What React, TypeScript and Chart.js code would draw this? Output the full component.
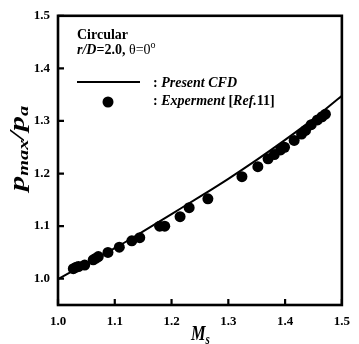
import React, { useEffect, useRef } from "react";
import { Chart, registerables } from "chart.js";

Chart.register(...registerables);

// Present CFD curve
const cfdMach = [1.0, 1.05, 1.1, 1.15, 1.2, 1.25, 1.3, 1.35, 1.4, 1.45, 1.5];
const cfdRatio = [0.999, 1.029, 1.058, 1.09, 1.123, 1.156, 1.19, 1.226, 1.264, 1.304, 1.348];

// Experiment [Ref.11]
const expMach = [
  1.027, 1.032, 1.036, 1.047, 1.062, 1.067, 1.071, 1.088, 1.108, 1.13, 1.144, 1.179, 1.188,
  1.215, 1.231, 1.264, 1.324, 1.352, 1.37, 1.381, 1.392, 1.399, 1.416, 1.429, 1.436, 1.446,
  1.457, 1.465, 1.471,
];
const expRatio = [
  1.019, 1.022, 1.023, 1.026, 1.036, 1.039, 1.042, 1.05, 1.06, 1.072, 1.078, 1.1, 1.1,
  1.118, 1.135, 1.152, 1.194, 1.213, 1.228, 1.236, 1.245, 1.25, 1.263, 1.275, 1.282, 1.293,
  1.302, 1.308, 1.313,
];

const xTicks = [1.0, 1.1, 1.2, 1.3, 1.4, 1.5];
const yTicks = [1.0, 1.1, 1.2, 1.3, 1.4, 1.5];

const SERIF = '"Liberation Serif", "Times New Roman", serif';

type Seg = { t: string; f: string; dy?: number };

function drawSegs(ctx: CanvasRenderingContext2D, x: number, y: number, segs: Seg[]) {
  let cx = x;
  for (const s of segs) {
    ctx.font = s.f;
    ctx.fillText(s.t, cx, y + (s.dy || 0));
    cx += ctx.measureText(s.t).width;
  }
  return cx;
}

const decorPlugin = {
  id: "decor",
  afterDraw(chart: any) {
    const ctx: CanvasRenderingContext2D = chart.ctx;
    const a = chart.chartArea;
    const xs = chart.scales.x;
    const ys = chart.scales.y;
    ctx.save();
    ctx.strokeStyle = "#000";
    ctx.fillStyle = "#000";
    // frame
    ctx.lineWidth = 2.6;
    ctx.strokeRect(a.left, a.top, a.right - a.left, a.bottom - a.top);
    // inward ticks
    ctx.lineWidth = 2.2;
    ctx.beginPath();
    for (const v of yTicks) {
      const py = ys.getPixelForValue(v);
      ctx.moveTo(a.left, py);
      ctx.lineTo(a.left + 6, py);
    }
    for (const v of xTicks) {
      const px = xs.getPixelForValue(v);
      ctx.moveTo(px, a.bottom);
      ctx.lineTo(px, a.bottom - 6);
    }
    ctx.stroke();

    // legend / annotation
    ctx.textAlign = "left";
    ctx.textBaseline = "alphabetic";
    const B = `bold 14px ${SERIF}`;
    const BI = `italic bold 14px ${SERIF}`;
    const N = `14px ${SERIF}`;
    drawSegs(ctx, 77, 39, [{ t: "Circular", f: B }]);
    drawSegs(ctx, 77, 54, [
      { t: "r/D", f: BI },
      { t: "=2.0, ", f: B },
      { t: "θ=0", f: N },
      { t: "o", f: `10px ${SERIF}`, dy: -6 },
    ]);
    ctx.lineWidth = 2;
    ctx.beginPath();
    ctx.moveTo(77, 82);
    ctx.lineTo(140, 82);
    ctx.stroke();
    drawSegs(ctx, 153, 87, [
      { t: ": ", f: B },
      { t: "Present CFD", f: BI },
    ]);
    ctx.beginPath();
    ctx.arc(108, 102, 5.5, 0, Math.PI * 2);
    ctx.fill();
    drawSegs(ctx, 153, 105, [
      { t: ": ", f: B },
      { t: "Experment ", f: BI },
      { t: "[", f: B },
      { t: "Ref.", f: BI },
      { t: "11]", f: B },
    ]);

    // x axis title M_s
    ctx.save();
    ctx.translate(191, 340);
    ctx.scale(0.78, 1);
    drawSegs(ctx, 0, 0, [
      { t: "M", f: `italic bold 21px ${SERIF}` },
      { t: "s", f: `italic bold 14px ${SERIF}`, dy: 4 },
    ]);
    ctx.restore();

    // y axis title p_max / p_a
    ctx.save();
    ctx.translate(24, 191);
    ctx.rotate(-Math.PI / 2);
    ctx.scale(1.45, 1);
    drawSegs(ctx, 0, 0, [
      { t: "p", f: `italic bold 21px ${SERIF}` },
      { t: "max", f: `italic bold 14px ${SERIF}`, dy: 4 },
      { t: "/", f: `italic bold 21px ${SERIF}` },
      { t: "p", f: `italic bold 21px ${SERIF}` },
      { t: "a", f: `italic bold 14px ${SERIF}`, dy: 4 },
    ]);
    ctx.restore();

    ctx.restore();
  },
};

export default function App() {
  const ref = useRef<HTMLCanvasElement | null>(null);
  useEffect(() => {
    if (!ref.current) return;
    const chart = new Chart(ref.current, {
      type: "scatter",
      data: {
        datasets: [
          {
            type: "line",
            label: "Present CFD",
            data: cfdMach.map((m, i) => ({ x: m, y: cfdRatio[i] })),
            borderColor: "#000",
            borderWidth: 2,
            pointRadius: 0,
            tension: 0.4,
            cubicInterpolationMode: "monotone",
            fill: false,
          } as any,
          {
            type: "scatter",
            label: "Experment [Ref.11]",
            data: expMach.map((m, i) => ({ x: m, y: expRatio[i] })),
            backgroundColor: "#000",
            borderColor: "#000",
            pointRadius: 5.5,
            pointBorderWidth: 0,
          },
        ],
      },
      options: {
        responsive: false,
        animation: false,
        layout: { padding: { left: 0, top: 13, right: 7, bottom: 0 } },
        plugins: {
          legend: { display: false },
          tooltip: { enabled: false },
          title: { display: false },
        },
        scales: {
          x: {
            type: "linear",
            min: 1.0,
            max: 1.5,
            afterBuildTicks: (s: any) => {
              s.ticks = xTicks.map((v) => ({ value: v }));
            },
            afterFit: (s: any) => {
              s.height = 39;
            },
            grid: { display: false, drawTicks: false },
            border: { display: false },
            ticks: {
              padding: 9,
              color: "#000",
              font: { family: SERIF, size: 13, weight: "bold" },
              callback: (v: any) => Number(v).toFixed(1),
            },
          },
          y: {
            type: "linear",
            min: 0.95,
            max: 1.5,
            afterBuildTicks: (s: any) => {
              s.ticks = yTicks.map((v) => ({ value: v }));
            },
            afterFit: (s: any) => {
              s.width = 58;
            },
            grid: { display: false, drawTicks: false },
            border: { display: false },
            ticks: {
              padding: 8,
              color: "#000",
              font: { family: SERIF, size: 13, weight: "bold" },
              callback: (v: any) => Number(v).toFixed(1),
            },
          },
        },
      },
      plugins: [decorPlugin],
    });
    return () => chart.destroy();
  }, []);
  return (
    <div style={{ position: "absolute", left: 0, top: 0, width: 359, height: 344, background: "#fff" }}>
      <canvas ref={ref} width={359} height={344} style={{ width: 359, height: 344, display: "block" }} />
    </div>
  );
}
